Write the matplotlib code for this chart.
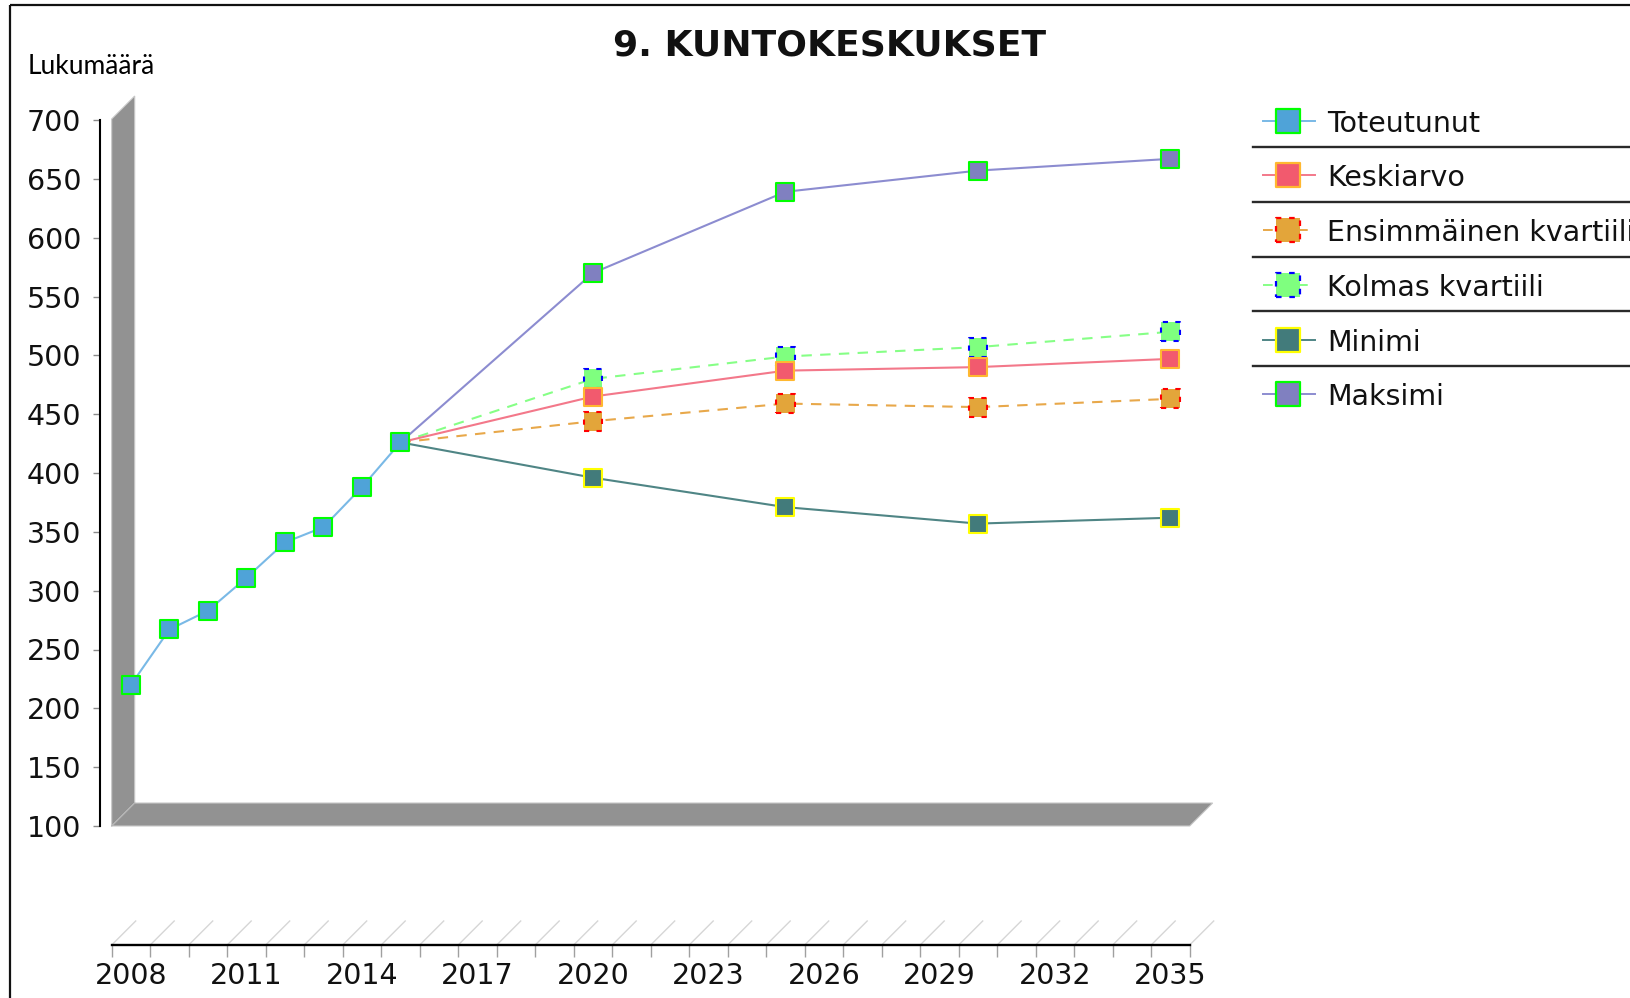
import matplotlib
matplotlib.use("Agg")
import matplotlib.pyplot as plt
from matplotlib.patches import Polygon
import numpy as np

# ---------------- data ----------------
title = "9. KUNTOKESKUKSET"
y_label = "Lukumäärä"
categories = list(range(2008, 2036))
label_years = [2008, 2011, 2014, 2017, 2020, 2023, 2026, 2029, 2032, 2035]

years_hist = [2008, 2009, 2010, 2011, 2012, 2013, 2014, 2015]
toteutunut = [220, 267, 283, 311, 341, 354, 388, 426]

years_proj = [2015, 2020, 2025, 2030, 2035]
keskiarvo = [426, 465, 487, 490, 497]
ensimmainen_kv = [426, 444, 459, 456, 463]
kolmas_kv = [426, 480, 499, 507, 520]
minimi = [426, 396, 371, 357, 362]
maksimi = [426, 570, 639, 657, 667]

series_names = ["Toteutunut", "Keskiarvo", "Ensimmäinen kvartiili",
                "Kolmas kvartiili", "Minimi", "Maksimi"]

# ---------------- styles ----------------
line_colors = ["#79b9e6", "#f3788a", "#e8a84a", "#86ff86", "#4f8585", "#8c8cd0"]
face_colors = ["#4fa3d8", "#f25a6e", "#e3a53a", "#7fff7f", "#427b7b", "#8080c0"]
edge_colors = ["#00ff00", "#ffb830", "#ff0000", "#0000ff", "#ffff00", "#00ff00"]
line_styles = ["-", "-", (0, (5, 4)), (0, (5, 4)), "-", "-"]
edge_styles = ["-", "-", (0, (2.5, 3.5)), (0, (2.5, 3.5)), "-", "-"]

W, H = 1631, 998
fig = plt.figure(figsize=(W / 100, H / 100), dpi=100)
fig.patch.set_facecolor("white")

# plot region in pixels (front plane)
PL, PR, PT, PB = 111.7, 1189.7, 120.0, 826.0
D3 = 23.0  # 3D offset

# overlay for decorations
ov = fig.add_axes([0, 0, 1, 1], zorder=0)
ov.set_xlim(0, W)
ov.set_ylim(H, 0)
ov.axis("off")

ax = fig.add_axes([PL / W, 1 - PB / H, (PR - PL) / W, (PB - PT) / H], zorder=1)
ax.patch.set_alpha(0)
ax.set_xlim(2007.5, 2035.5)
ax.set_ylim(100, 700)

# 3D wall and floor
wall_col = "#929292"
wall = Polygon([(PL, PB), (PL, PT - 1), (PL + D3, PT - 1 - D3), (PL + D3, PB - D3)],
               closed=True, facecolor=wall_col, edgecolor="#c8c8c8", lw=0.8)
floor = Polygon([(PL, PB), (PR, PB), (PR + D3, PB - D3), (PL + D3, PB - D3)],
                closed=True, facecolor=wall_col, edgecolor="#c8c8c8", lw=0.8)
ov.add_patch(wall)
ov.add_patch(floor)
ov.plot([PL, PL + D3], [PB, PB - D3], color="#b0b0b0", lw=0.8)

# outer frame (cropped on right/bottom)
ov.plot([10.5, 10.5], [5, H + 5], color="#111111", lw=1.6, solid_capstyle="butt")
ov.plot([10.5, W + 5], [5, 5], color="#111111", lw=1.6, solid_capstyle="butt")

# axis spines
for s in ["top", "right"]:
    ax.spines[s].set_visible(False)
ax.spines["left"].set_position(("outward", 11.7 * 0.72))
ax.spines["left"].set_linewidth(1.5)
ax.spines["left"].set_color("black")
x_axis_y = 945.0
ax.spines["bottom"].set_position(("outward", (x_axis_y - PB) * 0.72))
ax.spines["bottom"].set_linewidth(1.7)
ax.spines["bottom"].set_color("black")

# y ticks
ax.set_yticks(np.arange(100, 701, 50))
ax.tick_params(axis="y", which="major", length=5, width=1.0, color="#8a8a8a",
               pad=8.6, labelsize=20.5, labelcolor="#111111")

# x ticks: boundaries as major ticks, labels as minor ticks at category centres
ax.set_xticks(np.arange(2007.5, 2036, 1.0))
ax.set_xticklabels([])
ax.set_xticks(label_years, minor=True)
ax.set_xticklabels([str(y) for y in label_years], minor=True)
ax.tick_params(axis="x", which="major", length=8.6, width=1.0, color="#a0a0a0")
ax.tick_params(axis="x", which="minor", length=0, pad=12, labelsize=20.5,
               labelcolor="#111111")

# slanted 3D lines above the category axis
cw = (PR - PL) / len(categories)
for k in range(len(categories) + 1):
    x0 = PL + k * cw
    ov.plot([x0, x0 + 24], [x_axis_y, x_axis_y - 24], color="#d6d6d6", lw=1.0)

# ---------------- data lines ----------------
all_x = [years_hist, years_proj, years_proj, years_proj, years_proj, years_proj]
all_y = [toteutunut, keskiarvo, ensimmainen_kv, kolmas_kv, minimi, maksimi]

for i, (xs, ys) in enumerate(zip(all_x, all_y)):
    ax.plot(xs, ys, color=line_colors[i], lw=1.5, ls=line_styles[i], zorder=2 + (6 - i) * 0.01)

# markers (series 0 on top)
for i, (xs, ys) in enumerate(zip(all_x, all_y)):
    if i == 0:
        mx, my = xs, ys
    else:
        mx, my = xs[1:], ys[1:]
    ax.scatter(mx, my, marker="s", s=13.6 ** 2, facecolors=face_colors[i],
               edgecolors=edge_colors[i], linewidths=1.5, linestyle=edge_styles[i],
               zorder=10 - i)

# ---------------- texts ----------------
ov.text(830, 55, title, fontsize=26, fontweight="bold", family="DejaVu Sans",
        ha="center", va="baseline", color="#111111")
ov.text(28, 74, y_label, fontsize=19, family="Lato", ha="left", va="baseline",
        color="black")

# ---------------- legend ----------------
leg_y = [120.5, 175.3, 230.0, 284.8, 339.6, 394.3]
sep_y = [146.7, 201.7, 256.7, 311.2, 366.0]
for i, name in enumerate(series_names):
    cy = leg_y[i]
    ov.plot([1263, 1315], [cy, cy], color=line_colors[i], lw=1.4, ls=line_styles[i])
    ov.scatter([1288], [cy], marker="s", s=17.5 ** 2, facecolors=face_colors[i],
               edgecolors=edge_colors[i], linewidths=1.6, linestyle=edge_styles[i],
               zorder=5)
    ov.text(1327, cy, name, fontsize=20.5, family="DejaVu Sans", ha="left",
            va="center_baseline", color="#111111")
for sy in sep_y:
    ov.plot([1253, W + 5], [sy, sy], color="#2a2a2a", lw=1.7)

fig.savefig("out.png", dpi=100)
